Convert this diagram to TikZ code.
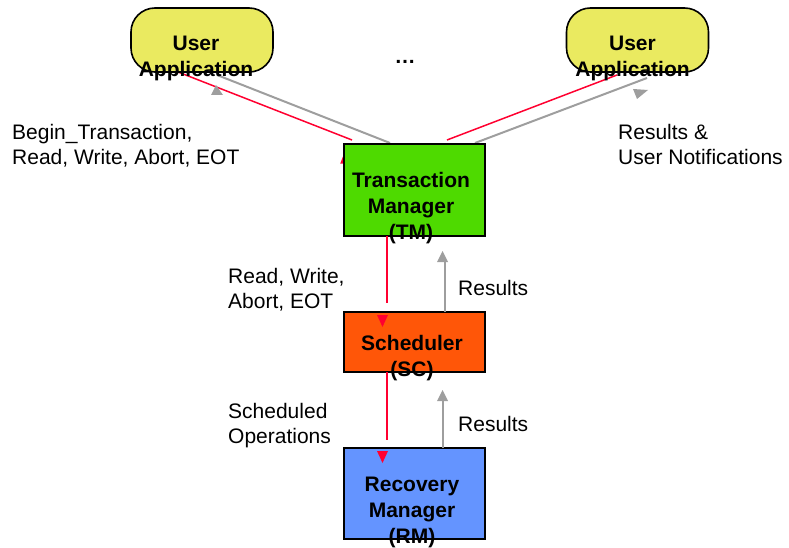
\documentclass[tikz,border=0pt]{standalone}
\usepackage{fontspec}
\setmainfont{Liberation Sans}
\usetikzlibrary{calc}

\definecolor{appyellow}{RGB}{234,234,96}
\definecolor{tmgreen}{RGB}{78,218,0}
\definecolor{scorange}{RGB}{255,86,8}
\definecolor{rmblue}{RGB}{100,148,255}
\definecolor{reqred}{RGB}{255,0,48}
\definecolor{resgray}{RGB}{158,158,158}

\begin{document}
\begin{tikzpicture}[x=1pt,y=-1pt,
  box/.style={draw=black, line width=1.6pt, inner sep=0pt},
  appbox/.style={box, fill=appyellow, rounded corners=24pt,
                 minimum width=142pt, minimum height=64pt},
  procbox/.style={box, minimum width=141pt},
  % multi-line labels: the base anchor sits on the last line
  boxtext/.style={font=\fontsize{21}{26}\selectfont\bfseries,
                  align=center, anchor=base, inner sep=0pt},
  note/.style={font=\fontsize{21}{25}\selectfont,
               align=left, anchor=base west, inner sep=0pt},
  req/.style={draw=reqred, line width=1.5pt},
  res/.style={draw=resgray, line width=2pt},
  reqhead/.style={fill=reqred},
  reshead/.style={fill=resgray},
]
\useasboundingbox (0,0) rectangle (789,548);

% connector end points
\coordinate (ua1-req) at (178,72);
\coordinate (tm-req1) at (352,140);
\coordinate (ua1-res) at (217,75);
\coordinate (tm-res1) at (390,143);
\coordinate (ua2-req) at (617,75);
\coordinate (tm-req2) at (447,140);
\coordinate (ua2-res) at (647,78);
\coordinate (tm-res2) at (475,143);

% requests and results between applications and the TM
\draw[req] (ua1-req) -- (tm-req1);
\draw[res] (tm-res1) -- (ua1-res);
\draw[req] (tm-req2) -- (ua2-req);
\draw[res] (tm-res2) -- (ua2-res);
\fill[reqhead] (343.8,154.3) -- (352,163) -- (340.2,163.7) -- cycle;

% components
\node[appbox] (ua1) at (202,40) {};
\node[appbox] (ua2) at (637.5,40) {};
\node[procbox, fill=tmgreen, minimum height=92pt] (tm) at (414.5,190) {};
\node[procbox, fill=scorange, minimum height=60pt] (sc) at (414.5,342) {};
\node[procbox, fill=rmblue, minimum height=91pt] (rm) at (414.5,493.5) {};

% vertical connectors
\coordinate (tm-down) at (387,236);
\coordinate (sc-in) at (387,303);
\coordinate (sc-res) at (445,312);
\coordinate (tm-in) at (445,262);
\coordinate (sc-down) at (387,372);
\coordinate (rm-in) at (387,440);
\coordinate (rm-res) at (443,448);
\coordinate (sc-resin) at (443,400);

\draw[req] (tm-down) -- (sc-in);
\draw[res] (sc-res) -- (tm-in);
\draw[req] (sc-down) -- (rm-in);
\draw[res] (rm-res) -- (sc-resin);

% arrow heads
\fill[reqhead] (377,315) -- (388,315) -- (382.5,327) -- cycle;
\fill[reqhead] (377,451) -- (388,451) -- (382.5,463) -- cycle;
\fill[reshead] (437,262) -- (448,262) -- (442.5,251) -- cycle;
\fill[reshead] (437,401) -- (448,401) -- (442.5,390) -- cycle;
\fill[reshead] (216,85) -- (223,95) -- (211,95) -- cycle;
\fill[reshead] (633,89) -- (648,90) -- (637,99) -- cycle;

% component labels
\node[boxtext] (ua1-text) at (196,77) {User\\Application};
\node[boxtext] (ua2-text) at (632.5,77) {User\\Application};
\node[boxtext] (tm-text) at (411,239) {Transaction\\Manager\\(TM)};
\node[boxtext] (sc-text) at (412,376) {Scheduler\\(SC)};
\node[boxtext] (rm-text) at (412,543) {Recovery\\Manager\\(RM)};
\node[font=\fontsize{21}{26}\selectfont\bfseries, inner sep=0pt] (more) at (405,62) {\dots};

% operation labels
\node[note] (ops-in) at (12,165) {Begin\_Transaction,\\Read, Write, Abort, EOT};
\node[note] (ops-out) at (618,165) {Results \&\\User Notifications};
\node[note] (ops-sc) at (228,308) {Read, Write,\\Abort, EOT};
\node[note] (res-tm) at (458,295) {Results};
\node[note] (ops-rm) at (228,443) {Scheduled\\Operations};
\node[note] (res-sc) at (458,431) {Results};
\end{tikzpicture}
\end{document}
